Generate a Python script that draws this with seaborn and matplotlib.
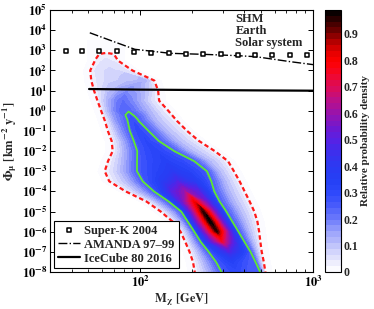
import numpy as np
import matplotlib
matplotlib.use('Agg')
import matplotlib.pyplot as plt
from matplotlib.colors import LinearSegmentedColormap, Normalize
from matplotlib.ticker import FixedLocator, FuncFormatter, NullFormatter, NullLocator, LogLocator
import seaborn as sns

# ── Experimental limits (muon flux from the Sun) ───────────────
superk_mass = [37, 46, 58, 73, 92, 116, 146, 184, 232, 292, 367, 462, 582, 733, 922]
superk_flux = [950, 950, 950, 890, 800, 740, 710, 680, 660, 630, 600, 600, 600, 590, 560]

amanda_mass = [51, 71, 93, 149, 234, 370, 468, 746, 1000]
amanda_flux = [7400, 2600, 1120, 710, 630, 540, 480, 270, 195]

icecube_mass = [50.5, 100, 300, 1000]
icecube_flux = [12.0, 11.2, 10.5, 9.9]

# ── Posterior density, read row by row (log10 flux) ────────────
# each row: knot positions in log10(M / GeV) and relative density there
log_flux_rows = [3.5, 3.0, 2.5, 2.0, 1.5, 1.0, 0.5, 0.0, -0.5, -1.0, -1.5, -2.0,
                 -2.5, -3.0, -3.5, -4.0, -4.5, -5.0, -5.5, -6.0, -6.5, -7.0,
                 -7.5, -8.0, -8.5]

log_mass_knots = [
    [1.697, 1.740, 1.761, 1.772, 1.787, 1.801, 1.819, 1.836, 1.848, 1.867, 1.907],
    [1.697, 1.740, 1.761, 1.772, 1.787, 1.801, 1.819, 1.836, 1.848, 1.867, 1.907],
    [1.697, 1.740, 1.761, 1.772, 1.787, 1.801, 1.819, 1.836, 1.848, 1.867, 1.907],
    [1.672, 1.712, 1.738, 1.761, 1.790, 1.825, 1.865, 1.900, 1.929, 1.952, 1.993],
    [1.677, 1.718, 1.755, 1.825, 1.929, 2.027, 2.050, 2.062, 2.071, 2.079, 2.120],
    [1.693, 1.734, 1.767, 1.813, 1.871, 1.923, 1.987, 2.039, 2.074, 2.101, 2.141],
    [1.713, 1.754, 1.778, 1.813, 1.859, 1.900, 1.952, 2.010, 2.062, 2.107, 2.147],
    [1.735, 1.775, 1.801, 1.836, 1.877, 1.929, 1.969, 2.039, 2.108, 2.160, 2.201],
    [1.756, 1.797, 1.859, 1.930, 1.940, 1.952, 1.969, 1.986, 2.085, 2.210, 2.250],
    [1.774, 1.814, 1.882, 1.942, 1.966, 1.993, 2.019, 2.044, 2.143, 2.269, 2.309],
    [1.796, 1.836, 1.906, 1.965, 1.998, 2.033, 2.068, 2.103, 2.207, 2.338, 2.378],
    [1.801, 1.842, 1.917, 1.985, 2.033, 2.085, 2.137, 2.192, 2.288, 2.429, 2.470],
    [1.774, 1.815, 1.906, 1.984, 2.062, 2.143, 2.224, 2.309, 2.392, 2.506, 2.546],
    [1.755, 1.796, 1.894, 1.984, 2.085, 2.184, 2.282, 2.383, 2.450, 2.540, 2.581],
    [1.781, 1.822, 1.929, 2.017, 2.114, 2.213, 2.311, 2.408, 2.485, 2.573, 2.613],
    [1.877, 1.917, 1.998, 2.082, 2.184, 2.259, 2.334, 2.425, 2.508, 2.602, 2.642],
    [1.996, 2.037, 2.097, 2.166, 2.236, 2.311, 2.386, 2.456, 2.537, 2.631, 2.671],
    [2.080, 2.120, 2.178, 2.239, 2.294, 2.363, 2.433, 2.495, 2.572, 2.658, 2.698],
    [2.149, 2.189, 2.236, 2.276, 2.328, 2.404, 2.473, 2.530, 2.601, 2.676, 2.716],
    [2.194, 2.235, 2.276, 2.314, 2.369, 2.444, 2.514, 2.566, 2.624, 2.686, 2.726],
    [2.221, 2.262, 2.305, 2.351, 2.409, 2.473, 2.537, 2.601, 2.647, 2.693, 2.733],
    [2.247, 2.287, 2.340, 2.398, 2.456, 2.514, 2.577, 2.637, 2.670, 2.701, 2.742],
    [2.266, 2.307, 2.369, 2.441, 2.485, 2.531, 2.601, 2.666, 2.687, 2.713, 2.753],
    [2.276, 2.317, 2.392, 2.473, 2.514, 2.554, 2.624, 2.693, 2.708, 2.722, 2.763],
    [2.288, 2.328, 2.409, 2.496, 2.537, 2.577, 2.647, 2.716, 2.725, 2.734, 2.774],
]

rel_density = [
    [0, 0, 0, 0, 0, 0, 0, 0, 0, 0, 0],
    [0, 0, 0, 0, 0, 0, 0, 0, 0, 0, 0],
    [0, .02, .035, .04, .045, .05, .045, .04, .035, .02, 0],
    [0, .02, .045, .055, .065, .07, .065, .055, .04, .02, 0],
    [0, .02, .05, .08, .10, .12, .09, .06, .04, .02, 0],
    [0, .02, .06, .10, .14, .17, .14, .10, .06, .02, 0],
    [0, .02, .07, .13, .19, .22, .18, .12, .06, .02, 0],
    [0, .02, .09, .16, .22, .24, .20, .13, .06, .02, 0],
    [0, .02, .16, .25, .265, .28, .265, .25, .12, .02, 0],
    [0, .02, .15, .25, .275, .30, .275, .25, .12, .02, 0],
    [0, .02, .14, .25, .28, .31, .28, .25, .12, .02, 0],
    [0, .02, .14, .25, .29, .32, .29, .25, .12, .02, 0],
    [0, .02, .13, .25, .30, .34, .30, .25, .12, .02, 0],
    [0, .02, .12, .25, .32, .38, .33, .25, .12, .02, 0],
    [0, .02, .12, .25, .36, .47, .38, .25, .12, .02, 0],
    [0, .02, .12, .25, .50, .60, .50, .25, .12, .02, 0],
    [0, .02, .12, .25, .52, .80, .52, .25, .12, .02, 0],
    [0, .02, .12, .25, .55, .95, .55, .25, .12, .02, 0],
    [0, .02, .12, .25, .55, .99, .55, .25, .12, .02, 0],
    [0, .02, .12, .25, .55, .95, .55, .25, .12, .02, 0],
    [0, .02, .12, .25, .50, .74, .50, .25, .12, .02, 0],
    [0, .02, .12, .25, .37, .48, .37, .25, .12, .02, 0],
    [0, .02, .12, .25, .30, .34, .27, .25, .12, .02, 0],
    [0, .02, .12, .25, .28, .30, .26, .25, .12, .02, 0],
    [0, .02, .12, .25, .28, .29, .27, .25, .12, .02, 0],
]

density_colors = [
    (0.00, '#ffffff'), (0.05, '#e4e4fc'), (0.10, '#c0c4fb'), (0.15, '#9aa2fb'),
    (0.20, '#6e7cfb'), (0.25, '#4a5cfb'), (0.30, '#2e48fb'), (0.35, '#2540f5'),
    (0.40, '#2c3af2'), (0.45, '#3a30ee'), (0.50, '#5522e6'), (0.55, '#7018d0'),
    (0.60, '#9414b0'), (0.65, '#b8108c'), (0.70, '#d80c60'), (0.75, '#f00830'),
    (0.80, '#ff0000'), (0.85, '#e00000'), (0.90, '#900000'), (0.95, '#400000'),
    (1.00, '#000000'),
]


def decade_label(value, pos):
    return r'$\mathbf{10^{%d}}$' % round(np.log10(value))


sns.set_style('ticks')
plt.rcParams['font.family'] = ['Liberation Serif', 'DejaVu Serif']
plt.rcParams['font.weight'] = 'bold'
plt.rcParams['mathtext.fontset'] = 'stix'

fig = plt.figure(figsize=(3.74, 3.09), dpi=100)
ax = fig.add_axes([50 / 374, 37 / 309, 263 / 374, 262 / 309])
ax.set_xscale('log')
ax.set_yscale('log')

# density map
log_mass = np.array(log_mass_knots)
log_flux = np.repeat(np.array(log_flux_rows)[:, None], log_mass.shape[1], axis=1)
density = np.array(rel_density)
mass_grid = 10 ** log_mass
flux_grid = 10 ** log_flux

cmap = LinearSegmentedColormap.from_list('posterior', density_colors)
norm = Normalize(vmin=0, vmax=0.99)
cs = ax.contourf(mass_grid, flux_grid, density, levels=np.linspace(0, 0.99, 46),
                 cmap=cmap, norm=norm, zorder=1)
ax.contour(mass_grid, flux_grid, density, levels=[0.019], colors='#ff1a1a',
           linewidths=1.6, linestyles=[(0, (2.0, 1.3))], zorder=2)
ax.contour(mass_grid, flux_grid, density, levels=[0.245], colors='#5fe830',
           linewidths=1.3, zorder=2)

# limits
sns.scatterplot(x=superk_mass, y=superk_flux, marker='s', s=10, facecolor='white',
                edgecolor='black', linewidth=1.1, label='Super-K 2004', ax=ax, zorder=5)
sns.lineplot(x=amanda_mass, y=amanda_flux, color='black', linestyle='-.',
             linewidth=1.0, label='AMANDA 97–99', ax=ax, zorder=4)
sns.lineplot(x=icecube_mass, y=icecube_flux, color='black', linewidth=1.6,
             label='IceCube 80 2016', ax=ax, zorder=4)

ax.set_xlim(30, 1000)
ax.set_ylim(1e-8, 1e5)
ax.xaxis.set_major_locator(FixedLocator([100, 1000]))
ax.xaxis.set_minor_locator(LogLocator(base=10, subs=range(2, 10)))
ax.xaxis.set_minor_formatter(NullFormatter())
ax.yaxis.set_major_locator(FixedLocator(10.0 ** np.arange(-8, 6)))
ax.yaxis.set_minor_locator(NullLocator())
ax.xaxis.set_major_formatter(FuncFormatter(decade_label))
ax.yaxis.set_major_formatter(FuncFormatter(decade_label))
ax.set_axisbelow(False)
ax.tick_params(which='both', direction='in', top=True, right=True, labelsize=9,
               colors='black', pad=2)
ax.tick_params(which='major', length=3.5, width=0.7)
ax.tick_params(which='minor', length=2, width=0.6)
for spine in ax.spines.values():
    spine.set_linewidth(0.8)
    spine.set_color('black')

ax.set_xlabel(r'$\mathbf{M_{\chi}\ [GeV]}$', fontsize=9, labelpad=1)
ax.set_ylabel(r'$\mathbf{\Phi_{\mu}\ [km^{-2}\ y^{-1}]}$', fontsize=9, labelpad=2)

ax.text(0.705, 0.99, 'SHM\nEarth\nSolar system', transform=ax.transAxes,
        ha='left', va='top', fontsize=9, fontweight='bold', linespacing=1.0)

handles, labels = ax.get_legend_handles_labels()
leg = ax.legend(handles, labels, loc='lower left', frameon=True, fancybox=False,
                edgecolor='black', framealpha=1, borderaxespad=0.3, borderpad=0.3,
                handlelength=1.8, handletextpad=0.35, labelspacing=0.15,
                prop={'weight': 'bold', 'size': 9})
leg.get_frame().set_linewidth(0.8)

# colour bar
cax = fig.add_axes([325 / 374, 37 / 309, 16 / 374, 262 / 309])
cb = fig.colorbar(cs, cax=cax, ticks=np.arange(0, 1.0, 0.1))
cb.ax.set_yticklabels(['0', '0.1', '0.2', '0.3', '0.4', '0.5', '0.6', '0.7', '0.8', '0.9'])
cb.outline.set_linewidth(0.8)
cb.outline.set_edgecolor('black')
cax.tick_params(direction='in', length=2, width=0.6, labelsize=8.5, pad=2)
cb.set_label('Relative probability density', fontsize=8, fontweight='bold', labelpad=2)

fig.savefig('out.png', dpi=100)
plt.close(fig)
